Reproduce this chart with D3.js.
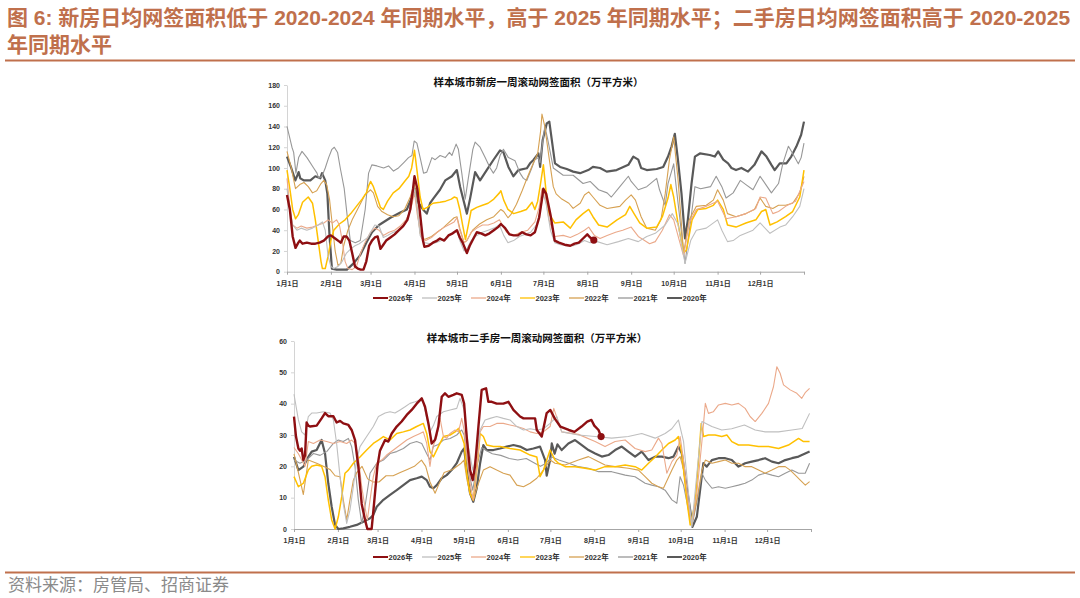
<!DOCTYPE html>
<html>
<head>
<meta charset="utf-8">
<script src="https://cdn.jsdelivr.net/npm/d3@7"></script>
<style>
  html, body { margin: 0; padding: 0; background: #fff; }
  svg { display: block; }
</style>
</head>
<body>
<svg id="fig" width="1080" height="598"></svg>
<script>
'use strict';

// ---- data (day of year, value) ----
const monthStarts = [0, 31, 59, 90, 120, 151, 181, 212, 243, 273, 304, 334];
const monthLabels = ['1月1日', '2月1日', '3月1日', '4月1日', '5月1日', '6月1日',
  '7月1日', '8月1日', '9月1日', '10月1日', '11月1日', '12月1日'];
const years = ['2026', '2025', '2024', '2023', '2022', '2021', '2020'];
const newHomeTicks = [0, 20, 40, 60, 80, 100, 120, 140, 160, 180];
const resaleTicks = [0, 10, 20, 30, 40, 50, 60];

// 新房 一周滚动网签面积
const newHome2026 = [[0,74],[2,60],[4,34],[6,23],[8,28],[9,30],[11,27],[14,28],[17,27],[20,27],[23,28],[26,30],[29,34],[31,35],[34,32],[37,29],[38,28],[40,34],[42,34],[44,30],[46,18],[48,5],[50,3],[52,2],[54,2],[56,10],[58,25],[60,30],[62,33],[64,34],[66,22],[68,26],[70,30],[73,33],[76,36],[79,40],[82,44],[85,50],[87,60],[89,80],[90,92],[92,80],[94,55],[96,30],[97,24],[100,25],[103,28],[106,30],[108,32],[111,30],[114,35],[117,37],[120,40],[122,33],[124,28],[127,18],[129,25],[132,33],[134,38],[137,37],[140,35],[143,37],[146,40],[149,43],[151,46],[154,42],[157,36],[160,35],[163,35],[166,38],[169,36],[172,35],[175,38],[178,52],[180,70],[181,80],[183,75],[186,55],[189,30],[192,28],[196,26],[200,25],[203,27],[206,28],[209,32],[212,36],[214,33],[216.6,30.5]];
const newHome2025 = [[0,80],[2,60],[4,45],[7,40],[10,42],[14,40],[18,42],[22,45],[25,48],[27,40],[29,15],[31,5],[33,3],[36,5],[39,10],[42,18],[45,22],[48,25],[51,27],[54,30],[57,33],[59,38],[62,45],[65,44],[68,33],[71,35],[75,38],[79,40],[83,45],[86,55],[88,68],[90,80],[92,60],[94,35],[97,28],[101,27],[105,28],[109,30],[113,33],[117,38],[120,40],[122,30],[125,20],[127,22],[130,30],[134,35],[138,38],[142,40],[146,42],[150,45],[153,35],[156,28],[160,30],[164,34],[168,36],[172,38],[176,45],[179,60],[181,75],[183,65],[186,40],[189,28],[193,26],[197,25],[202,25],[206,27],[210,30],[214,28],[219,29],[226,26],[234,29],[241,32],[248,29],[254,34],[260,37],[267,45],[272,56],[276,46],[281,8],[285,30],[289,40],[296,42],[304,50],[307,40],[311,29],[315,30],[320,35],[329,40],[334,47],[341,37],[348,43],[352,45],[357,53],[362,63],[365,80]];
const newHome2024 = [[0,90],[2,62],[4,45],[7,42],[10,44],[14,42],[18,43],[22,45],[26,47],[29,50],[32,47],[35,50],[37,45],[39,30],[41,10],[43,3],[46,2],[49,5],[52,18],[55,28],[59,38],[62,42],[65,40],[68,35],[72,38],[76,40],[80,44],[84,50],[87,58],[89,70],[90,76],[92,55],[95,32],[98,30],[102,33],[106,38],[110,42],[114,45],[118,48],[120,52],[122,40],[125,28],[127,30],[130,38],[134,42],[138,45],[142,45],[146,47],[150,50],[152,45],[155,38],[160,35],[165,38],[170,40],[175,48],[178,62],[180,80],[182,75],[185,50],[189,34],[195,35],[200,33],[205,36],[210,40],[213,43],[217,35],[221,32],[226,35],[232,38],[237,40],[243,43],[248,34],[256,27],[260,29],[265,40],[270,55],[273,50],[277,30],[280,15],[284,47],[289,60],[296,63],[304,68],[310,51],[317,53],[324,56],[331,61],[334,72],[338,71],[343,56],[347,58],[352,63],[359,68],[365,87]];
const newHome2023 = [[0,98],[2,80],[4,60],[6,51],[8,55],[11,67],[15,72],[18,66],[20,50],[22,30],[24,10],[25,3],[27,3],[29,15],[31,30],[33,40],[37,46],[41,50],[45,56],[49,63],[53,70],[56,76],[58,84],[59,87],[61,82],[64,70],[66,62],[68,60],[71,68],[75,76],[79,80],[83,87],[86,92],[88,100],[90,117],[92,95],[94,72],[96,60],[99,62],[103,66],[108,67],[112,68],[116,70],[118,72],[120,71],[122,60],[124,45],[126,31],[128,45],[130,59],[134,62],[138,64],[142,66],[146,70],[150,76],[151,78],[153,69],[156,60],[160,56],[165,58],[169,60],[173,67],[175,60],[177,68],[179,85],[181,103],[183,76],[185,56],[189,47],[195,48],[200,42],[204,50],[209,56],[213,60],[216,53],[220,45],[226,43],[233,50],[239,55],[242,63],[245,56],[249,47],[254,42],[261,43],[265,53],[269,71],[271,84],[273,72],[276,47],[280,18],[282,21],[286,50],[290,60],[296,61],[301,64],[304,69],[308,60],[311,45],[317,43],[324,47],[331,50],[335,58],[338,60],[341,45],[346,48],[352,53],[357,58],[362,72],[365,98]];
const newHome2022 = [[0,116],[3,100],[6,80],[9,84],[12,86],[15,82],[18,76],[21,78],[24,85],[26,88],[28,84],[30,70],[32,45],[34,20],[36,6],[38,8],[40,25],[43,40],[46,50],[49,58],[52,66],[55,74],[59,79],[61,76],[64,63],[67,58],[71,55],[75,53],[79,54],[83,60],[87,72],[90,85],[92,60],[94,37],[97,31],[102,34],[106,38],[110,42],[114,47],[118,52],[120,53],[122,42],[125,28],[127,30],[131,40],[136,46],[141,50],[146,53],[151,60],[153,58],[156,52],[158,55],[162,65],[166,78],[170,92],[174,105],[177,114],[179,135],[180,152],[182,140],[185,110],[188,82],[190,75],[194,70],[199,66],[202,61],[207,66],[210,74],[213,77],[216,72],[221,64],[226,61],[235,63],[239,69],[243,74],[246,69],[250,53],[254,42],[260,40],[264,50],[267,75],[270,108],[273,130],[276,90],[280,18],[284,50],[289,63],[296,64],[301,69],[304,79],[308,69],[311,56],[317,53],[324,56],[330,60],[334,71],[338,63],[343,61],[347,64],[352,64],[357,66],[362,76],[365,92]];
const newHome2021 = [[0,140],[3.5,120],[4.7,115],[6.3,95],[8.2,110],[10.6,116],[14.1,110],[18.8,100],[21.2,95],[22.3,90],[24.7,92],[27,100],[29.4,110],[31.7,118],[33.4,120],[35.7,115],[37.6,100],[40.4,80],[42.8,50],[44.7,30],[48.2,28],[51.7,30],[55.2,60],[57.6,95],[59.9,103],[63.5,102],[68.2,100],[71.7,102],[75.2,97],[78.7,100],[82.3,105],[85.8,110],[88.2,112],[89.8,126],[91.7,124],[94,110],[96.4,95],[98.7,96],[102.3,110],[104.6,108],[108.1,112],[111.7,110],[114.7,115],[116.4,112],[119.4,123],[121,118],[123.4,95],[125.8,70],[128,90],[131.2,118],[132.8,125],[136.3,120],[139.9,110],[143.4,100],[145.7,95],[148,100],[150.4,112],[152.8,118],[156.3,110],[161,107],[164.5,95],[166.9,90],[169.3,88],[172.8,100],[175,108],[177.5,110],[178.6,105],[180.5,125],[182,140],[184,128],[188,100],[195,93],[202,93],[209,85],[214,87],[220,79],[226,76],[229,72],[235,82],[241,92],[243,87],[248,79],[254,82],[261,90],[263,79],[267,64],[269,85],[273,104],[275,79],[281,8],[286,60],[288,82],[292,80],[299,82],[303,92],[307,82],[310,71],[315,76],[320,88],[324,84],[329,79],[334,92],[339,82],[342,76],[347,85],[350,104],[354,121],[357,114],[361,104],[363,110],[365,124]];
const newHome2020 = [[0,111],[3,100],[5.9,88],[8.2,96],[9.4,90],[12,88],[16.5,88],[20,92],[23.5,90],[24.7,95],[27,88],[28.5,75],[30,35],[31.7,3],[35,2],[39,2],[42.3,2],[47,8],[51.7,16],[56,28],[60,38],[65,45],[73,52],[80,57],[84.6,60],[88.2,72],[90.5,80],[92.9,66],[96.4,59.5],[98.7,56],[101,66],[103.4,70.7],[108,79],[111.7,88],[116.4,92],[119.9,98],[122.2,82],[127,56],[129.3,70.7],[132.8,96],[136.3,88],[141,98],[145.7,107.7],[150.4,117],[152.8,115],[156.3,101],[159.8,92],[163.4,98],[169.3,99.7],[171.6,104.5],[174,107.7],[177.5,114],[178.7,101],[180.5,127],[183.4,143],[185.2,144.7],[189.2,104.5],[192.8,101],[197.5,99],[202,96.5],[206.9,95],[212.7,98],[216,101],[221,100],[225.7,96.5],[232.7,98],[241,103],[244.5,111],[248,108],[250,100],[254,98],[261,99],[265.6,101],[269,111],[271.5,120.6],[273.8,133],[276,108],[278.5,75.5],[281,32],[283,50],[285.6,85],[288,111],[291.5,114],[298.5,112.5],[302,111],[304.4,116],[308,108],[311.4,104.5],[313.8,100],[317,98],[320.8,100],[325.5,96.5],[330,103],[335,116],[338.5,111],[342,103],[344.3,98],[347.9,104.5],[352.6,104.5],[356,111],[359.6,120.6],[363,132],[365,144.7]];

// 二手房 一周滚动网签面积
const resale2026 = [[0,35.9],[1.4,29.5],[3.1,25.7],[4.2,25],[5.4,25.7],[6.6,22],[7.8,23.5],[8.9,34],[10.1,33],[11.3,32.7],[16,33],[19.5,35.3],[21.9,37],[24.2,36],[27.8,36],[30.1,34],[32.5,34.5],[34.8,33.7],[38.4,33.2],[40.7,31.6],[43.1,28.4],[45.4,20],[47.8,8],[50.1,3],[51.8,0],[54.8,0],[56.5,8],[58.9,20],[60.7,25],[64.3,28.4],[66.6,27.9],[69,30.5],[72.5,32.7],[76,34.3],[79.6,36.4],[83.1,38],[86.6,40],[90.2,41.7],[92.5,39],[94.9,33.7],[97.2,27.3],[99.6,28.5],[101.9,32.7],[104.3,42.2],[106.6,43.3],[109,42.2],[112.5,42.8],[114.9,43.3],[118.4,42.8],[120.1,40],[121.9,29.5],[124.3,18.8],[126.2,15.6],[127.8,20],[130.2,32.7],[132.5,44.4],[135.6,44.9],[137.2,40.6],[139.6,40.6],[143.1,40],[147.8,40],[151.4,40.6],[154.9,38],[159.6,35.9],[162,35.3],[166.7,35.3],[170.2,35.3],[171.4,31.6],[174.9,29.5],[178.4,37],[181,38],[184,35.3],[188,32.7],[194,31.6],[198,31],[203,32.7],[207,34.3],[210,34.8],[212,33],[215,31.6],[216.8,29.5]];
const resale2025 = [[0,43],[3.1,34.8],[5.4,31],[7.8,30],[10.1,35.9],[12.5,37],[16,37],[20.7,37.4],[25.4,37],[27.8,34.8],[30.1,27.3],[32.5,16.7],[34.8,8],[37.2,1.8],[39.5,6],[41.9,13.5],[44.3,22],[46.6,26.3],[51.3,29.5],[56,32.7],[59.6,35.9],[64.3,37],[67.8,37.4],[71.3,37],[74.9,38],[78.4,39],[81.9,40.1],[85.5,40.6],[89,41.2],[91.3,40.6],[93.7,35.3],[96,31],[98.4,33],[100.8,35.9],[105.5,37.4],[110.2,38],[114.9,38.5],[117.2,41.7],[120.1,38],[123.1,26.3],[126.2,18.8],[129,24],[131.4,31.6],[134.9,34.8],[138.4,35.3],[143.1,35.9],[147.8,35.3],[152.5,34.8],[157.3,32.7],[162,31.6],[166.7,32],[171.4,31.6],[176.1,32],[180.8,33.7],[185.5,35.9],[189,31],[200.8,30],[212.6,29.5],[224.3,29],[236,29.5],[245.5,30.5],[255,29],[262,30.5],[266.7,32],[271.4,34.8],[275,28],[280.8,0.7],[288,34.3],[295,32.7],[302,31.6],[309,32],[318,33.2],[325.6,31.6],[332.6,31],[342,31],[351.5,31.6],[358.8,32.1],[364,36.9]];
const resale2024 = [[0,26],[3.1,24],[7.8,20],[10.1,27.9],[13.7,27.3],[18.4,28.4],[23.1,27.9],[27.8,27.3],[32.5,27.9],[37.2,27.3],[40.7,28.4],[43.1,27.3],[45.4,23],[47.8,13.5],[50.1,7],[51.8,2.9],[53.7,9.3],[56,16.7],[58.4,21],[61.9,22],[65.4,23.6],[70.2,25.2],[74.9,26.8],[79.6,28.4],[84.3,29.5],[89,30.5],[91.3,31],[93.7,27.3],[96,20],[97.9,26],[100.8,29.5],[103.1,35.3],[105.5,29.5],[107.8,29],[110.2,30.5],[113.7,31.6],[116.1,31],[118.4,35.3],[120.1,31.6],[121.9,24],[124.3,14.6],[126.6,9.3],[129,18.8],[131.4,31],[133.7,32.7],[138.4,32.7],[143.1,33.7],[147.8,33.7],[152.5,33.2],[157.3,32.7],[162,32.1],[166.7,31],[171.4,30.5],[176.1,31],[180.8,32.7],[183.4,38.5],[189,31],[200.8,30.2],[212.6,27.9],[219.6,26.3],[226.7,27.9],[233.8,28.4],[240.8,25.7],[247.9,24.7],[252.6,25.2],[257.3,29],[259.7,27.3],[263.2,17.8],[266.8,21.5],[270.3,23.6],[272.6,29.5],[275,22],[278.5,8.2],[280.8,1.3],[284.4,11.4],[288,28],[290.4,40.1],[292.6,36.9],[296,37.4],[299.7,39.6],[304.5,40.1],[309.1,39.6],[313.8,40.1],[318.5,38.5],[322,35.9],[325.6,34.3],[330.3,36.9],[335,40.1],[338.5,45.4],[340.9,51.8],[343.2,49.7],[345.6,46],[350.3,44.4],[355,43.3],[358.5,41.7],[360.9,43.5],[364,44.9]];
const resale2023 = [[0,16.7],[3.1,13.5],[6.6,14.6],[10.1,18.8],[12.5,20],[16,20.4],[19.5,20],[21.9,16.7],[24.2,9.3],[26.6,2.9],[29,0],[31.3,3.9],[33.7,10.3],[36,17.8],[38.4,18.8],[41.9,21],[46.6,23],[51.3,25.2],[56,27.3],[59.6,28.4],[63.1,29.5],[67.8,28.4],[72.5,30.5],[77.2,31],[81.9,31.6],[86.6,32.7],[91.3,33.7],[93.7,30.5],[96,24.7],[98.4,23],[101.9,26.3],[105.5,29.5],[110.2,30],[113.7,31],[116.1,32.1],[118.4,29.5],[120.1,27.3],[121.9,18],[124.3,11.4],[126.6,9.3],[129,18.8],[131.4,30.5],[133.7,29.5],[136.1,26.8],[140.8,26.3],[145.5,26.3],[152.5,25.7],[159.6,25.2],[166.7,23.6],[171.4,23],[173.7,16.7],[176.1,18.8],[180.8,25.2],[184.3,22],[186.7,21],[191.4,19.9],[198.4,19.9],[205.5,19.4],[212.6,18.8],[219.6,19.9],[226.7,19.9],[233.8,20.4],[240.8,19.9],[245.5,18.8],[250.3,21],[255,23],[259.7,25.2],[264.4,27.3],[269.1,28.4],[271.4,29.5],[273.8,24.1],[277.3,9.3],[279.7,1.3],[283.2,8.2],[285.6,22],[287.5,33.7],[289.2,29.5],[292.6,30],[297.3,30],[302,29.5],[305.6,30],[309.1,27.9],[313.8,26.8],[320.9,26.8],[328,26.3],[335,26.3],[342.1,25.7],[349.1,26.8],[356.2,28.9],[359.7,27.9],[364,27.9]];
const resale2022 = [[0,24],[3.1,18],[6.6,11],[10.1,22],[16,21],[20.7,20],[25.4,19],[29,17],[32.5,16.7],[34.8,9.3],[37.2,2.9],[39.5,9.3],[41.9,15.6],[44.3,18],[48,20],[52,16],[56,15],[60,15],[65,17],[70,17],[75,18],[80,19],[85,20],[90,22],[93,20],[96,15],[99.6,11.4],[102,14],[106,18],[112,19],[118,21],[120,22],[122,16],[124.3,11],[126.6,9],[129,13],[133.7,18.8],[138.4,19.9],[143.1,18.8],[147.8,17.8],[152.5,17.2],[157.3,14],[162,13.5],[166.7,14.6],[171.4,16.2],[176.1,18.8],[180.8,22],[184.3,21],[191.4,20.4],[200.8,22],[207.9,23.1],[212.6,22],[219.6,20.4],[226.7,19.9],[236,19.4],[243.2,18.8],[247.9,16.7],[252.6,14.6],[257.3,13.5],[260.8,13],[266.8,18.8],[270.3,22],[272.6,23.1],[275,19],[278.5,7.1],[280.8,1.3],[284.4,9.3],[288,18.8],[290.4,22],[295.1,21],[299.7,21.5],[304.5,22],[309.1,21],[313.8,21],[318.5,19.9],[323.2,19.9],[328,18.8],[332.6,17.8],[337.4,18.8],[342.1,19.9],[346.8,19.9],[350.3,18.8],[353.9,17.2],[357.4,15.6],[361,14],[364,15.1]];
const resale2021 = [[0,22],[4.2,21],[8.9,22],[13.7,24.1],[18.4,23.5],[23.1,24.7],[27.8,27.3],[31.3,28.4],[34.8,27.9],[38.4,28.9],[40.7,26.3],[43.1,19.9],[45.4,9.3],[47.8,1.8],[50.1,7.1],[53.7,17.8],[58.4,21],[63.1,22],[67.8,24.1],[72.5,24.7],[77.2,25.7],[81.9,27.3],[86.6,27.9],[90.2,27.3],[93.7,24],[96,22],[98.4,26.3],[101.9,27],[105.5,28.4],[110.2,28.9],[114.9,30],[118.4,31.6],[120.1,30],[123.1,18.8],[126.2,12.4],[129,20],[132.5,26],[136,25],[140,24],[146,23.5],[152,22.5],[158,22],[164,22.5],[170,21],[174,20],[178,21],[182,23],[187,22],[194,21],[200.8,19.9],[207.9,19.4],[215,18.3],[224.3,18.3],[233.8,17.2],[240.8,16.7],[247.9,14.6],[252.6,14],[257.3,13.5],[262,12.4],[266.8,9.3],[270.3,8.2],[272.6,16.7],[275,14],[280.8,0.7],[285.6,11.4],[288,17.8],[290.4,15.6],[295.1,13],[299.7,13.5],[304.5,13],[309.1,13.5],[313.8,14],[318.5,14.6],[323.2,15.6],[328,17.2],[332.6,17.8],[337.4,17.2],[342.1,16.7],[346.8,17.8],[351.5,18.8],[356.2,17.8],[360.9,17.8],[364,21]];
const resale2020 = [[0,23],[3.1,18.8],[6.6,19.9],[10.1,23],[12.5,24.7],[16,25.2],[19.5,28.4],[21.9,24.1],[24.2,14.6],[26.6,7.1],[29,1.3],[31.3,0],[34.8,0.2],[39.5,0.7],[44.3,1.3],[49,2.3],[53.7,3.4],[56,4.5],[58.4,7.1],[63.1,9.3],[67.8,10.9],[72.5,12.4],[77.2,14],[81.9,15.6],[86.6,16.2],[90.2,16.7],[93.7,15.6],[96,13.5],[98.4,13],[100.8,14],[104.3,16.2],[107.8,17.2],[111.3,18.8],[114.9,21],[118.4,24.7],[120.1,25.7],[121.9,19],[124.3,11.4],[126.6,8.7],[129,13],[131.4,21],[133.7,26.8],[136.1,25.2],[140.8,25.2],[145.5,25.7],[150.2,26.3],[154.9,26.8],[159.6,26.3],[164.3,25.2],[169,25.7],[173.7,26.3],[177.3,22],[178.4,17],[180.8,22],[182,27.3],[184,24],[186,27],[189,25.2],[193.7,27.3],[198.4,28.4],[203.2,26.8],[207.9,25.2],[212.6,24.1],[217.3,23.1],[222,23.6],[226.7,25.2],[231.4,26.3],[236,24.7],[240.8,23.1],[245.5,24.7],[250.3,22],[255,23.1],[259.7,23.1],[264.4,22.6],[267.9,23.1],[271.4,26.3],[273.8,24.1],[276.1,16.7],[279.7,6.1],[281.3,0.7],[284.4,3.9],[286.7,12.4],[289,21],[291.4,19.9],[295,22],[299.7,22.6],[304.5,22.6],[309.1,22],[313.8,19.9],[318.5,21],[323.2,21.5],[328,22],[332.6,22.6],[337.4,21.5],[342.1,21],[346.8,22],[351.5,22.6],[356.2,23.1],[360.9,24.1],[364,24.7]];

// ---- styles ----
const seriesStyle = {
  '2026': { color: '#8e0f12', width: 2.4 },
  '2025': { color: '#bfbfbf', width: 1.1 },
  '2024': { color: '#eba98a', width: 1.1 },
  '2023': { color: '#ffc000', width: 1.5 },
  '2022': { color: '#d6a152', width: 1.1 },
  '2021': { color: '#989898', width: 1.1 },
  '2020': { color: '#595959', width: 2.2 }
};
const latinCjk = '"Liberation Sans", Arial, "Noto Sans CJK SC", sans-serif';
const accent = '#c0704c';

const svg = d3.select('#fig');

function drawPanel(cfg) {
  let x = d3.scaleLinear().domain([0, 365]).range(cfg.xRange);
  let y = d3.scaleLinear().domain([0, cfg.yMax]).range(cfg.yRange);
  let g = svg.append('g');

  // chart title
  g.append('text')
    .attr('x', cfg.titleX).attr('y', cfg.titleY)
    .attr('text-anchor', 'middle')
    .style('font-family', latinCjk).style('font-weight', 'bold').style('font-size', '10.5px')
    .attr('fill', '#111')
    .text(cfg.title);

  // y axis
  let yAxis = d3.axisLeft(y).tickValues(cfg.yTicks).tickSize(3).tickSizeOuter(0).tickPadding(4);
  let gy = g.append('g').attr('transform', 'translate(' + cfg.xRange[0] + ',0)').call(yAxis);
  gy.select('.domain').attr('stroke', '#d4d4d4');
  gy.selectAll('.tick line').attr('stroke', '#d4d4d4');

  // x axis, month ticks plus a closing tick at year end
  let xAxis = d3.axisBottom(x).tickValues(monthStarts.concat([365])).tickSize(3).tickSizeOuter(0).tickPadding(6)
    .tickFormat(function (d) { let i = monthStarts.indexOf(d); return i === -1 ? '' : monthLabels[i]; });
  let gx = g.append('g').attr('transform', 'translate(0,' + cfg.yRange[0] + ')').call(xAxis);
  gx.select('.domain').attr('stroke', '#a6a6a6');
  gx.selectAll('.tick line').attr('stroke', '#a6a6a6');

  g.selectAll('.tick text')
    .style('font-family', latinCjk).style('font-weight', 'bold').style('font-size', '7px')
    .attr('fill', '#333');

  // lines, oldest year first so 2026 sits on top
  let line = d3.line().x(d => x(d[0])).y(d => y(d[1]));
  years.slice().reverse().forEach(function (yr) {
    g.append('path')
      .datum(cfg.series[yr])
      .attr('fill', 'none')
      .attr('stroke', seriesStyle[yr].color)
      .attr('stroke-width', seriesStyle[yr].width)
      .attr('stroke-linejoin', 'round')
      .attr('d', line);
  });

  // end marker on the current year
  let last = cfg.series['2026'][cfg.series['2026'].length - 1];
  g.append('circle')
    .attr('cx', x(last[0])).attr('cy', y(last[1])).attr('r', 3.6)
    .attr('fill', seriesStyle['2026'].color);

  // legend
  let lg = g.append('g');
  years.forEach(function (yr, i) {
    let x0 = 373 + i * 49;
    lg.append('line')
      .attr('x1', x0).attr('x2', x0 + 15)
      .attr('y1', cfg.legendY).attr('y2', cfg.legendY)
      .attr('stroke', seriesStyle[yr].color)
      .attr('stroke-width', yr === '2026' || yr === '2020' ? 2 : 1.3);
    lg.append('text')
      .attr('x', x0 + 15.5).attr('y', cfg.legendY).attr('dy', '0.35em')
      .style('font-family', latinCjk).style('font-weight', 'bold').style('font-size', '7.5px')
      .attr('fill', '#333')
      .text(yr + '年');
  });
}

// ---- page frame ----
let head = svg.append('g')
  .style('font-family', latinCjk).style('font-weight', 'bold').style('font-size', '21px')
  .attr('fill', accent);
head.append('text').attr('x', 7).attr('y', 24.5)
  .text('图 6: 新房日均网签面积低于 2020-2024 年同期水平，高于 2025 年同期水平；二手房日均网签面积高于 2020-2025');
head.append('text').attr('x', 7).attr('y', 52).text('年同期水平');

svg.append('line').attr('x1', 5).attr('x2', 1075).attr('y1', 60.5).attr('y2', 60.5)
  .attr('stroke', accent).attr('stroke-width', 2);
svg.append('line').attr('x1', 5).attr('x2', 1075).attr('y1', 572.5).attr('y2', 572.5)
  .attr('stroke', accent).attr('stroke-width', 2);
svg.append('text').attr('x', 8).attr('y', 591)
  .style('font-family', '"Noto Sans CJK SC", sans-serif').style('font-size', '17px')
  .attr('fill', '#8a8a8a')
  .text('资料来源：房管局、招商证券');

drawPanel({
  title: '样本城市新房一周滚动网签面积（万平方米）',
  titleX: 538.5, titleY: 85.5,
  xRange: [287, 804], yRange: [271.7, 85], yMax: 180, yTicks: newHomeTicks,
  legendY: 298,
  series: { '2026': newHome2026, '2025': newHome2025, '2024': newHome2024, '2023': newHome2023,
            '2022': newHome2022, '2021': newHome2021, '2020': newHome2020 }
});

drawPanel({
  title: '样本城市二手房一周滚动网签面积（万平方米）',
  titleX: 537, titleY: 341.5,
  xRange: [294, 811], yRange: [529, 341], yMax: 60, yTicks: resaleTicks,
  legendY: 557,
  series: { '2026': resale2026, '2025': resale2025, '2024': resale2024, '2023': resale2023,
            '2022': resale2022, '2021': resale2021, '2020': resale2020 }
});
</script>
</body>
</html>
